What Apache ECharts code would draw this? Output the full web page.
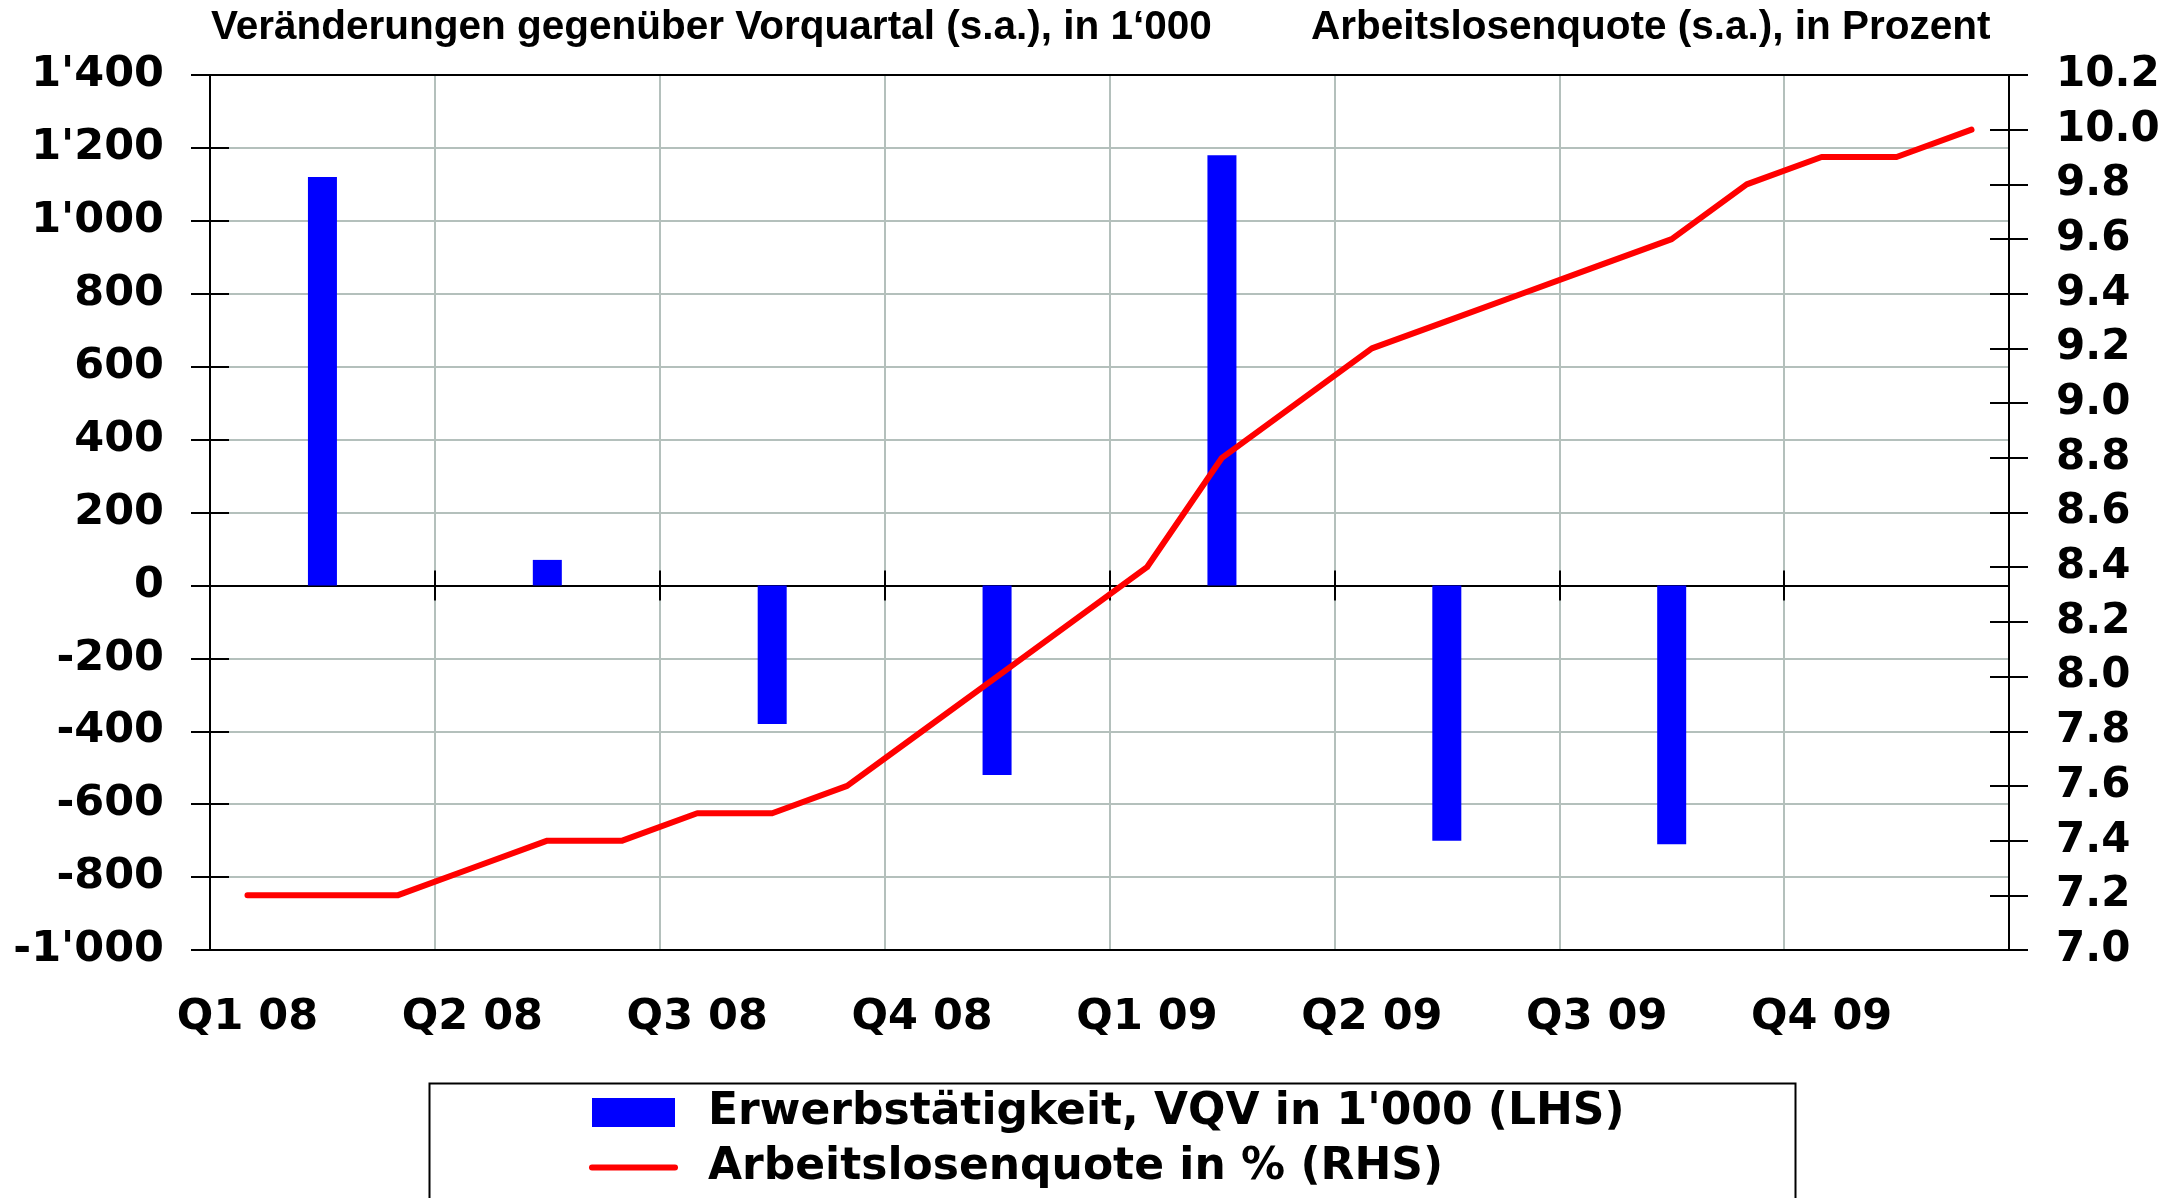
<!DOCTYPE html>
<html>
<head>
<meta charset="utf-8">
<script src="https://cdn.jsdelivr.net/npm/echarts@6/dist/echarts.min.js"></script>
<style>
html, body { margin: 0; padding: 0; background: #fff; }
#chart { width: 2181px; height: 1198px; }
</style>
</head>
<body>
<div id="chart"></div>
<script>
// Monate Jan 08 .. Dez 09 (Kategorien der x-Achse)
var months = ['Jan 08', 'Feb 08', 'Mär 08', 'Apr 08', 'Mai 08', 'Jun 08',
              'Jul 08', 'Aug 08', 'Sep 08', 'Okt 08', 'Nov 08', 'Dez 08',
              'Jan 09', 'Feb 09', 'Mär 09', 'Apr 09', 'Mai 09', 'Jun 09',
              'Jul 09', 'Aug 09', 'Sep 09', 'Okt 09', 'Nov 09', 'Dez 09'];
var quarterLabels = ['Q1 08', 'Q2 08', 'Q3 08', 'Q4 08', 'Q1 09', 'Q2 09', 'Q3 09', 'Q4 09'];
// Erwerbstätigkeit, Veränderung gegenüber Vorquartal in 1'000 (LHS)
var jobChange = [1120, 70, -380, -520, 1180, -700, -710, null];
// Arbeitslosenquote in % (RHS), monatlich
var joblessRate = [7.2, 7.2, 7.2, 7.3, 7.4, 7.4, 7.5, 7.5, 7.6, 7.8, 8.0, 8.2,
                   8.4, 8.8, 9.0, 9.2, 9.3, 9.4, 9.5, 9.6, 9.8, 9.9, 9.9, 10.0];

var barName = "Erwerbstätigkeit, VQV in 1'000 (LHS)";
var lineName = 'Arbeitslosenquote in % (RHS)';

var axisFont = 'DejaVu Sans';
var titleFont = 'Liberation Sans';
var gridColor = '#b4c0bc';

// Balken jeweils im mittleren Monat des Quartals
var barData = months.map(function (m, i) {
    if (i % 3 !== 1) return '-';
    var v = jobChange[(i - 1) / 3];
    return v == null ? '-' : v;
});

function everyQuarter(i) { return i % 3 === 0; }

function thousands(v) {
    var a = Math.abs(v);
    var s = a >= 1000 ? Math.floor(a / 1000) + "'" + String(a % 1000).padStart(3, '0') : String(a);
    return (v < 0 ? '-' : '') + s;
}

var black = { color: '#000', width: 2 };
var labelStyle = { fontFamily: axisFont, fontWeight: 'bold', fontSize: 43, color: '#000' };
var titleStyle = { fontFamily: titleFont, fontWeight: 'bold', fontSize: 40.5, lineHeight: 40, color: '#000' };

var myChart = echarts.init(document.getElementById('chart'), null, { renderer: 'canvas' });

var option = {
    backgroundColor: '#fff',
    animation: false,
    title: [
        { text: 'Veränderungen gegenüber Vorquartal (s.a.), in 1‘000', left: 211, top: 8, padding: 0, textStyle: titleStyle },
        { text: 'Arbeitslosenquote (s.a.), in Prozent', left: 1311, top: 8, padding: 0, textStyle: titleStyle }
    ],
    // Rahmen der Legende (läuft unten aus dem Bild)
    graphic: [{
        type: 'rect', left: 427, top: 1081, silent: true,
        shape: { width: 1366, height: 200 },
        style: { fill: 'none', stroke: '#000', lineWidth: 2 }
    }],
    legend: {
        orient: 'vertical',
        left: 427, top: 1081,
        padding: [9.5, 0, 0, 162],
        itemWidth: 83, itemHeight: 29, itemGap: 11,
        textStyle: { fontFamily: axisFont, fontWeight: 'bold', fontSize: 44, lineHeight: 44, color: '#000',
            padding: [0, 0, 0, 28] },
        data: [
            { name: barName, icon: 'rect' },
            { name: lineName,
              itemStyle: { color: 'transparent', borderColor: 'transparent', borderWidth: 0 },
              lineStyle: { color: '#ff0000', width: 6, cap: 'round' } }
        ]
    },
    grid: [
        { left: 210, right: 172, top: 75, bottom: 248 },
        { left: 210, right: 172, top: 75, bottom: 248 }
    ],
    xAxis: [
        {   // untere Achse: Beschriftung, Gitter, unterer Rahmen
            gridIndex: 0, type: 'category', data: months, position: 'bottom', boundaryGap: true, z: 1,
            axisLine: { onZero: false, lineStyle: black },
            axisTick: { show: false },
            axisLabel: Object.assign({ interval: everyQuarter, margin: 46,
                formatter: function (v, i) { return quarterLabels[i / 3]; } }, labelStyle),
            splitLine: { show: true, interval: everyQuarter, showMinLine: false, showMaxLine: false,
                lineStyle: { color: gridColor, width: 2 } }
        },
        {   // Nulllinie mit Strichen nach oben
            gridIndex: 0, type: 'category', data: months, position: 'top', boundaryGap: true, z: 2,
            axisLine: { onZero: true, lineStyle: black },
            axisTick: { show: true, interval: everyQuarter, length: 15, lineStyle: black },
            axisLabel: { show: false },
            splitLine: { show: false }
        },
        {   // Nulllinie mit Strichen nach unten
            gridIndex: 1, type: 'category', data: months, position: 'bottom', boundaryGap: true, z: 2,
            axisLine: { onZero: true, lineStyle: black },
            axisTick: { show: true, interval: everyQuarter, length: 15, lineStyle: black },
            axisLabel: { show: false },
            splitLine: { show: false }
        },
        {   // oberer Rahmen
            gridIndex: 1, type: 'category', data: months, position: 'top', boundaryGap: true, z: 1,
            axisLine: { onZero: false, lineStyle: black },
            axisTick: { show: false },
            axisLabel: { show: false },
            splitLine: { show: false }
        }
    ],
    yAxis: [
        {
            gridIndex: 0, type: 'value', position: 'left', min: -1000, max: 1400, interval: 200,
            axisLine: { show: true, onZero: false, lineStyle: black },
            axisTick: { show: true, length: 19, lineStyle: black },
            axisLabel: Object.assign({ margin: 46, formatter: thousands }, labelStyle),
            splitLine: { show: true, showMinLine: false, showMaxLine: false, lineStyle: { color: gridColor, width: 2 } }
        },
        {
            gridIndex: 0, type: 'value', position: 'right', min: 7, max: 10.2, interval: 0.2,
            axisLine: { show: true, onZero: false, lineStyle: black },
            axisTick: { show: true, length: 19, lineStyle: black },
            axisLabel: Object.assign({ margin: 47, formatter: function (v) { return v.toFixed(1); } }, labelStyle, { fontSize: 42 }),
            splitLine: { show: false }
        },
        {   // Striche nach innen, links
            gridIndex: 1, type: 'value', position: 'left', min: -1000, max: 1400, interval: 200, z: 2,
            axisLine: { show: false, onZero: false },
            axisTick: { show: true, inside: true, length: 19, lineStyle: black },
            axisLabel: { show: false },
            splitLine: { show: false }
        },
        {   // Striche nach innen, rechts
            gridIndex: 1, type: 'value', position: 'right', min: 7, max: 10.2, interval: 0.2, z: 2,
            axisLine: { show: false, onZero: false },
            axisTick: { show: true, inside: true, length: 19, lineStyle: black },
            axisLabel: { show: false },
            splitLine: { show: false }
        }
    ],
    series: [
        {
            name: barName, type: 'bar', xAxisIndex: 0, yAxisIndex: 0,
            barWidth: 29,
            itemStyle: { color: '#0000ff' },
            data: barData
        },
        {
            name: lineName, type: 'line', xAxisIndex: 0, yAxisIndex: 1,
            symbol: 'none', z: 3,
            lineStyle: { color: '#ff0000', width: 6, cap: 'round', join: 'round' },
            itemStyle: { color: '#ff0000' },
            data: joblessRate
        }
    ]
};
myChart.setOption(option);
</script>
</body>
</html>
